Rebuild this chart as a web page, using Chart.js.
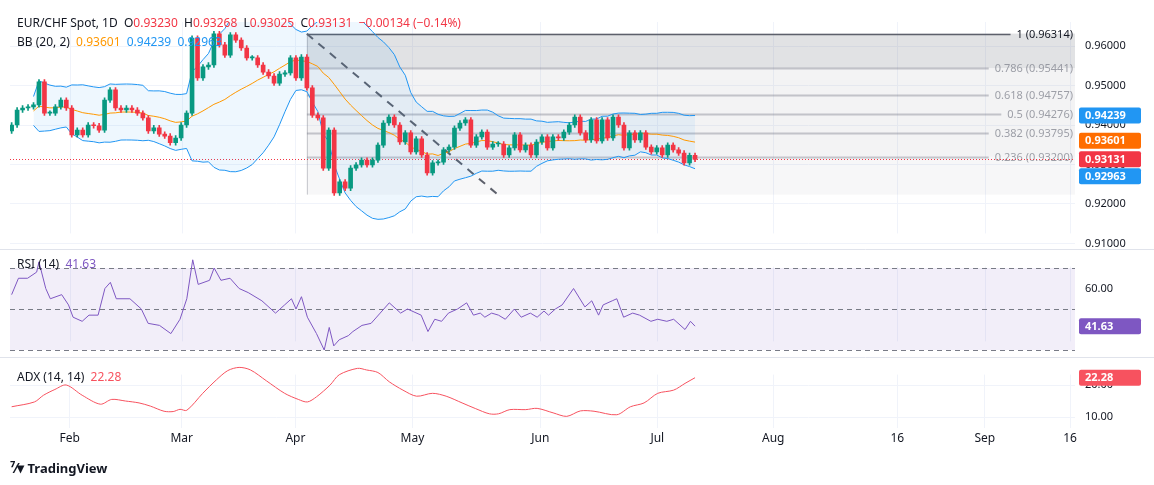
<!DOCTYPE html>
<html><head><meta charset="utf-8">
<script src="https://cdn.jsdelivr.net/npm/chart.js@4.4.1/dist/chart.umd.min.js"></script>
<style>
body{margin:0;background:#fff;font-family:"Noto Sans",Roboto,sans-serif;width:1154px;height:485px;overflow:hidden;position:relative}
.pane{position:absolute;left:0;width:1154px}
.t{position:absolute;font-size:12px;color:#131722;white-space:pre}
.r{color:#F23645}
</style></head><body>
<div class="pane" style="top:0;height:250px"><canvas id="c1"></canvas></div>
<div class="pane" style="top:250px;height:108px"><canvas id="c2"></canvas></div>
<div class="pane" style="top:358px;height:92px"><canvas id="c3"></canvas></div>
<div class="t" style="left:17px;top:14px">EUR/CHF Spot, 1D  O<span class="r">0.93230</span>  H<span class="r">0.93268</span>  L<span class="r">0.93025</span>  C<span class="r">0.93131</span>  <span class="r">−0.00134 (−0.14%)</span></div>
<div class="t" style="left:17px;top:33px">BB (20, 2)  <span style="color:#FF9800">0.93601</span>  <span style="color:#2196F3">0.94239</span>  <span style="color:#2196F3">0.92963</span></div>
<div class="t" style="left:17px;top:255px">RSI (14)  <span style="color:#7E57C2">41.63</span></div>
<div class="t" style="left:17px;top:368px">ADX (14, 14)  <span style="color:#F7525F">22.28</span></div>
<div class="t" style="left:10px;top:458px;font-size:13px;font-weight:bold"><span style="font-size:14px">⁷⁄▾</span> TradingView</div>
<script>
// ---- data ----
const closes = [0.9400,0.9438,0.9443,0.9446,0.9451,0.9509,0.9430,0.9430,0.9446,0.9463,0.9443,0.9375,0.9387,0.9375,0.9400,0.9398,0.9387,0.9463,0.9489,0.9443,0.9438,0.9443,0.9438,0.9430,0.9418,0.9385,0.9393,0.9377,0.9372,0.9355,0.9367,0.9400,0.9430,
0.9620,0.9519,0.9547,0.9552,0.9631,0.9603,0.9577,0.9628,0.9615,0.9595,0.9570,0.9570,0.9552,0.9534,0.9524,0.9506,0.9529,0.9532,0.9570,0.9519,0.9572,0.9494,0.9425,0.9418,0.9291,0.9387,0.9228,0.9256,0.9240,0.9291,0.9299,0.9311,0.9299,0.9311,0.9349,
0.9405,0.9420,0.9400,0.9357,0.9380,0.9332,0.9365,0.9324,0.9279,0.9304,0.9306,0.9337,0.9344,0.9392,0.9405,0.9413,0.9349,0.9370,0.9382,0.9344,0.9352,0.9352,0.9324,0.9342,0.9375,0.9337,0.9349,0.9324,0.9357,0.9370,
0.9342,0.9370,0.9367,0.9382,0.9400,0.9420,0.9380,0.9362,0.9413,0.9360,0.9413,0.9367,0.9420,0.9400,0.9342,0.9380,0.9362,0.9380,0.9344,0.9332,0.9342,0.9324,0.9349,0.9337,0.9329,0.9304,0.9323,0.93131];
const firstOpen = 0.9385;
const wick = 0.0006;
const monthLabels = ["Feb","Mar","Apr","May","Jun","Jul","Aug","16","Sep","16"];
const monthPos = [10.6,31.1,51.9,73.3,96.7,118.1,139.3,162,178,193.6];
const priceTicks = [0.96,0.95,0.94,0.93,0.92,0.91];
const fibRatios = [1,0.786,0.618,0.5,0.382,0.236,0];
const fibLevels = [0.96314,0.95441,0.94757,0.94276,0.93795,0.93200,0.92238];
const fibStart = 54;
const trendX = [54,89], trendY = [0.9631,0.9223];
const lastValues = {upper:0.94239, mid:0.93601, close:0.93131, lower:0.92963};
const rsiZx = [20,35,55,75,80,95,105,130,145,155,175,190,210,225,237,250,280,305,320,345,370,390,405,418,430,455,465,480,500,520,540,570,600,620,635,645,657,670,690,707,718,728,740,760,770,790,810,830,850,875,890,920,935,950,965,980,1000,1020,1035,1050,1060,1075,1090,1105,1125,1140,1160,1175,1190,1200,1215,1230,1255,1280,1295,1310,1320,1340,1350,1365,1385,1400,1425,1440,1460,1475,1500,1512,1522];
const rsiVal = [57,65,65,68,73,60,55,57,52,46,44,47,47,60,63,55,55,50,43,42,38,45,55,74,62,64,70,64,65,60,58,54,48,52,55,50,56,46,38,30,41,32,35,37,39,42,43,48,53,48,50,47,39,45,44,48,50,53,47,48,46,48,47,45,50,46,48,46,49,47,50,52,60,51,54,47,52,54,55,46,48,47,44,45,44,45,40,44,41.63];
const adxZx = [20,70,90,115,140,175,215,240,270,300,325,355,375,390,405,440,470,495,520,545,580,620,650,670,690,720,740,780,800,825,850,880,910,945,975,1010,1040,1070,1090,1115,1150,1175,1210,1240,1270,1300,1350,1380,1410,1440,1475,1500,1522];
const adxVal = [13.2,14.7,16.8,18.6,20,16.8,14,15.5,15,14.4,13.4,11.8,11.7,12.4,12.1,17.4,21.6,24.5,25.5,24.7,21.3,17.4,15.5,14.7,16.3,20,23.2,25.2,24.7,23.9,21,18.4,16.5,17.4,16.5,14.4,12.6,11,11,12.3,12.3,12.7,11.3,10.2,11.9,11.8,10.7,13.2,14.4,17.4,18.4,20.5,22.28];

// ---- derived ----
const N = closes.length;
const idx = closes.map((_,i)=>i);
const opens = closes.map((c,i)=> i===0?firstOpen:closes[i-1]);
const up = closes.map((c,i)=>c>=opens[i]);
const bodies = idx.map(i=>({x:i,y:[opens[i],closes[i]]}));
const wicks = idx.map(i=>({x:i,y:[Math.min(opens[i],closes[i])-wick,Math.max(opens[i],closes[i])+wick]}));
const cols = up.map(u=>u?'#089981':'#F23645');
const bbU=[],bbM=[],bbL=[];
for(let i=4;i<N;i++){const w=closes.slice(Math.max(0,i-19),i+1);const m=w.reduce((a,b)=>a+b,0)/w.length;const sd=Math.sqrt(w.reduce((a,b)=>a+(b-m)*(b-m),0)/w.length);bbU.push({x:i,y:m+2*sd});bbM.push({x:i,y:m});bbL.push({x:i,y:m-2*sd});}
const zxToIdx = zx => (zx-20)*(N-1)/1502;
const rsiData = rsiZx.map((z,i)=>({x:zxToIdx(z),y:rsiVal[i]}));
const adxData = adxZx.map((z,i)=>({x:zxToIdx(z),y:adxVal[i]}));

const XMIN=-0.3, XMAX=194.5, AXW=79, PADL=10;
function xScale(show){return {type:'linear',min:XMIN,max:XMAX,offset:false,display:show,
  afterBuildTicks:s=>{s.ticks=monthPos.map(v=>({value:v}));},
  ticks:{autoSkip:false,maxRotation:0,color:'#131722',font:{size:12,family:'Noto Sans'},padding:4,callback:(v,i)=>monthLabels[i]},
  grid:{color:'#f0f3fa',drawTicks:false},border:{display:false}};}
function yScale(min,max,ticks,fmt,grid){return {position:'right',min,max,
  afterBuildTicks:s=>{s.ticks=ticks.map(v=>({value:v}));},
  afterFit:s=>{s.width=AXW;},
  ticks:{color:'#131722',font:{size:11,family:'Noto Sans'},padding:10,callback:fmt},
  grid:{display:grid!==false,color:'#f0f3fa',drawTicks:false},border:{display:false}};}
function vgrid(ch){const {ctx,chartArea:a,scales:{x}}=ch;ctx.save();ctx.strokeStyle='#f0f3fa';ctx.lineWidth=1;monthPos.forEach(v=>{const px=Math.round(x.getPixelForValue(v))+0.5;ctx.beginPath();ctx.moveTo(px,a.top);ctx.lineTo(px,a.bottom);ctx.stroke();});ctx.restore();}
function sep(ch){const {ctx}=ch;ctx.save();ctx.strokeStyle='#e0e3eb';ctx.beginPath();ctx.moveTo(0,ch.height-0.5);ctx.lineTo(ch.width,ch.height-0.5);ctx.stroke();ctx.restore();}
function box(ctx,area,y,text,bg,fg){ctx.save();ctx.fillStyle=bg;const x=area.right+4;ctx.beginPath();ctx.roundRect(x,y-8,62,16,2);ctx.fill();ctx.fillStyle=fg||'#fff';ctx.font='bold 11px "Noto Sans"';ctx.textBaseline='middle';ctx.fillText(text,x+6,y+0.5);ctx.restore();}
function fitY(ch,refVal,refPx,pxPerUnit){const a=ch.chartArea;const y=ch.options.scales.y;
  y.max=refVal+(refPx-a.top)/pxPerUnit; y.min=refVal-(a.bottom-refPx)/pxPerUnit; ch.update();}

const mainPlugin={id:'mainp',
 beforeDatasetsDraw(ch){vgrid(ch);const {ctx,chartArea:a,scales:{x,y}}=ch;ctx.save();
  const x0=x.getPixelForValue(fibStart);
  for(let i=0;i<fibLevels.length-1;i++){const y1=y.getPixelForValue(fibLevels[i]),y2=y.getPixelForValue(fibLevels[i+1]);
   ctx.fillStyle=i===0?'rgba(120,123,134,0.22)':(i===fibLevels.length-2?'rgba(120,123,134,0.06)':'rgba(120,123,134,0.09)');ctx.fillRect(x0,y1,a.right-x0,y2-y1);}
  ctx.font='11px "Noto Sans"';ctx.textBaseline='middle';ctx.textAlign='right';
  fibLevels.forEach((v,i)=>{if(fibRatios[i]===0)return;const py=Math.round(y.getPixelForValue(v))+0.5;const txt=fibRatios[i]+' ('+v.toFixed(5)+')';const tw=ctx.measureText(txt).width;
   ctx.strokeStyle=i===0?'#5d606b':'rgba(120,123,134,0.4)';ctx.lineWidth=i===0?1.5:2;ctx.beginPath();ctx.moveTo(x0,py);ctx.lineTo(a.right-tw-8,py);ctx.stroke();
   ctx.fillStyle=i===0?'#131722':'rgba(120,123,134,0.7)';ctx.fillText(txt,a.right-2,py);});
  ctx.beginPath();ctx.strokeStyle='rgba(120,123,134,0.4)';ctx.lineWidth=1;ctx.moveTo(x0+0.5,y.getPixelForValue(fibLevels[0]));ctx.lineTo(x0+0.5,y.getPixelForValue(fibLevels[6]));ctx.stroke();
  ctx.setLineDash([8,7]);ctx.strokeStyle='#5d606b';ctx.lineWidth=2;ctx.beginPath();ctx.moveTo(x.getPixelForValue(trendX[0]),y.getPixelForValue(trendY[0]));ctx.lineTo(x.getPixelForValue(trendX[1]),y.getPixelForValue(trendY[1]));ctx.stroke();
  ctx.setLineDash([1,2]);ctx.strokeStyle='#F23645';ctx.lineWidth=1;const cy=Math.round(y.getPixelForValue(lastValues.close))+0.5;ctx.beginPath();ctx.moveTo(a.left,cy);ctx.lineTo(a.right,cy);ctx.stroke();
  ctx.restore();},
 afterDraw(ch){const {ctx,chartArea:a,scales:{y}}=ch;
  const items=[[lastValues.upper,'#2196F3'],[lastValues.mid,'#FF6D00'],[lastValues.close,'#F23645'],[lastValues.lower,'#2196F3']];
  let prev=-1e9;items.forEach(([v,c])=>{let py=y.getPixelForValue(v);if(py<prev+17)py=prev+17;prev=py;box(ctx,a,py,v.toFixed(5),c);});sep(ch);}};

const baseOpts=(pad)=>({animation:false,responsive:true,maintainAspectRatio:false,layout:{padding:pad},
  plugins:{legend:{display:false},tooltip:{enabled:false}}});
const c1=new Chart(document.getElementById('c1'),{type:'bar',
 data:{datasets:[
  {type:'line',data:bbU,borderColor:'#2196F3',borderWidth:1,pointRadius:0,fill:'+2',backgroundColor:'rgba(33,150,243,0.08)',order:5},
  {type:'line',data:bbM,borderColor:'#FF9800',borderWidth:1,pointRadius:0,fill:false,order:4},
  {type:'line',data:bbL,borderColor:'#2196F3',borderWidth:1,pointRadius:0,fill:false,order:5},
  {data:wicks,backgroundColor:cols,barThickness:1,grouped:false,order:2},
  {data:bodies,backgroundColor:cols,barThickness:4,grouped:false,order:1,minBarLength:1}]},
 options:Object.assign(baseOpts({left:PADL,right:0,top:22,bottom:0}),{scales:{x:xScale(false),y:yScale(0.90889,0.96405,priceTicks,v=>v.toFixed(5))}}),plugins:[mainPlugin]});
fitY(c1,0.96,46,39.5/0.01);
const rsiPlugin={id:'rsip',beforeDatasetsDraw(ch){vgrid(ch);const {ctx,chartArea:a,scales:{y}}=ch;ctx.save();
  const t=y.getPixelForValue(70),b=y.getPixelForValue(30);ctx.fillStyle='rgba(126,87,194,0.1)';ctx.fillRect(a.left,t,a.right-a.left,b-t);
  ctx.setLineDash([5,4]);ctx.strokeStyle='#787B86';ctx.lineWidth=1;[70,50,30].forEach(v=>{const py=Math.round(y.getPixelForValue(v))+0.5;ctx.beginPath();ctx.moveTo(a.left,py);ctx.lineTo(a.right,py);ctx.stroke();});ctx.restore();},
 afterDraw(ch){const {ctx,chartArea:a,scales:{y}}=ch;box(ctx,a,y.getPixelForValue(41.63),'41.63','#7E57C2');sep(ch);}};
const c2=new Chart(document.getElementById('c2'),{type:'line',
 data:{datasets:[{data:rsiData,borderColor:'#7E57C2',borderWidth:1,pointRadius:0,tension:0,clip:false}]},
 options:Object.assign(baseOpts({left:PADL,right:0,top:0,bottom:0}),{scales:{x:xScale(false),y:yScale(27,78,[60],v=>v.toFixed(2),false)}}),plugins:[rsiPlugin]});
fitY(c2,70,18,2.05);
const adxPlugin={id:'adxp',afterDraw(ch){const {ctx,chartArea:a,scales:{y}}=ch;box(ctx,a,y.getPixelForValue(22.28),'22.28','#F7525F');}};
const c3=new Chart(document.getElementById('c3'),{type:'line',
 data:{datasets:[{data:adxData,borderColor:'#F7525F',borderWidth:1,pointRadius:0,tension:0.3,clip:false}]},
 options:Object.assign(baseOpts({left:PADL,right:0,top:0,bottom:0}),{scales:{x:xScale(true),y:yScale(6.5,27.8,[20,10],v=>v.toFixed(2))}}),plugins:[adxPlugin]});
fitY(c3,20,27,3.2);
</script></body></html>
